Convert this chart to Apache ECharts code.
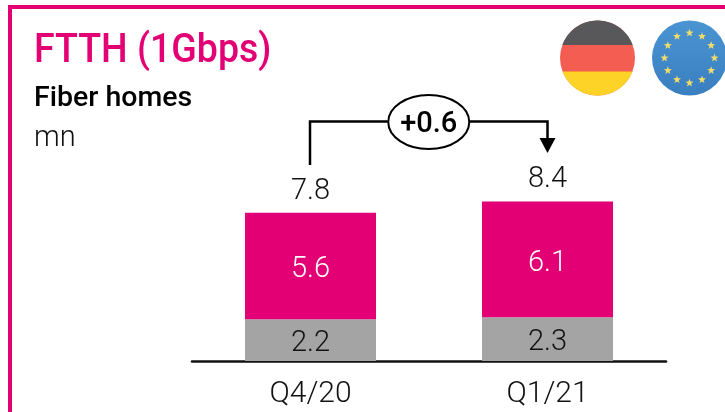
<!DOCTYPE html>
<html><head><meta charset="utf-8">
<style>html,body{margin:0;padding:0;background:#fff}#c{width:725px;height:412px}</style>
<script src="https://cdn.jsdelivr.net/npm/echarts@6/dist/echarts.min.js"></script>
</head><body><div id="c"></div>
<script>
const categories = ['Q4/20', 'Q1/21'];
const grayValues = [2.2, 2.3];
const pinkValues = [5.6, 6.1];
const totalValues = [7.8, 8.4];
const deltaLabel = '+0.6';
const FONT = 'Roboto, sans-serif';
const PINK = '#e20074', GRAY = '#a4a4a4', INK = '#111';

const chart = echarts.init(document.getElementById('c'), null, {renderer: 'canvas'});
const numLabel = (color) => ({show: true, color, fontFamily: FONT, fontSize: 29, fontWeight: 300,
  formatter: p => p.value.toFixed(1)});

chart.setOption({
  animation: false,
  backgroundColor: '#fff',
  grid: {left: 192, right: 59, top: 57, bottom: 51},
  xAxis: {type: 'category', data: categories, axisTick: {show: false},
    axisLine: {lineStyle: {color: '#111', width: 2.5}},
    axisLabel: {color: INK, fontFamily: FONT, fontSize: 30, fontWeight: 300, margin: 18}},
  yAxis: {type: 'value', min: 0, max: 16, show: false, splitLine: {show: false}},
  series: [
    {type: 'bar', stack: 't', name: 'gray', data: grayValues, barWidth: 131,
      itemStyle: {color: GRAY}, label: {...numLabel(INK), position: 'inside', offset: [0, 4]}},
    {type: 'bar', stack: 't', name: 'pink', data: pinkValues, barWidth: 131,
      itemStyle: {color: PINK}, label: {...numLabel('#fff'), position: 'inside', offset: [0, 4]}},
    {type: 'scatter', name: 'total', data: totalValues, symbolSize: 0, silent: true,
      itemStyle: {opacity: 1},
      label: {...numLabel(INK), position: 'top', distance: 7}}
  ]
});

// circular segment between two horizontal lines, as sampled polygon points
function band(cx, cy, r, y0, y1) {
  const pts = [];
  const a0 = Math.asin((y0 - cy) / r), a1 = Math.asin((y1 - cy) / r);
  for (let i = 0; i <= 24; i++) { const a = a0 + (a1 - a0) * i / 24; pts.push([cx + r * Math.cos(a), cy + r * Math.sin(a)]); }
  for (let i = 24; i >= 0; i--) { const a = a0 + (a1 - a0) * i / 24; pts.push([cx - r * Math.cos(a), cy + r * Math.sin(a)]); }
  return pts;
}
function star(cx, cy, R) {
  const pts = [];
  for (let i = 0; i < 10; i++) {
    const a = -Math.PI / 2 + i * Math.PI / 5, r = i % 2 ? R * 0.42 : R;
    pts.push([cx + r * Math.cos(a), cy + r * Math.sin(a)]);
  }
  return pts;
}

const p0 = chart.convertToPixel({seriesIndex: 0}, [0, 0]);
const p1 = chart.convertToPixel({seriesIndex: 0}, [1, 0]);
const x0 = p0[0] - 0.5, x1 = p1[0], yTop = 121.5, cxE = (x0 + x1) / 2;
const DE = {cx: 597.5, cy: 58, r: 37.5}, EU = {cx: 689.5, cy: 58, r: 37.5};

chart.setOption({
  graphic: [
    {type: 'rect', shape: {x: 8, y: 5, width: 717, height: 4}, style: {fill: PINK}, silent: true},
    {type: 'rect', shape: {x: 8, y: 5, width: 4, height: 407}, style: {fill: PINK}, silent: true},
    {type: 'text', silent: true, x: 34, y: 31, scaleX: 0.915,
      style: {text: 'FTTH (1Gbps)', x: 0, y: 0, fill: PINK, font: '500 41px ' + FONT}},
    {type: 'text', silent: true, style: {text: 'Fiber homes', x: 34, y: 84, fill: '#000', font: '500 28.5px ' + FONT}},
    {type: 'text', silent: true, style: {text: 'mn', x: 34, y: 124, fill: INK, font: '300 29px ' + FONT}},
    {type: 'polyline', silent: true, shape: {points: [[x0, 165], [x0, yTop], [cxE - 41, yTop]]}, style: {stroke: '#000', lineWidth: 2.5, fill: null}},
    {type: 'polyline', silent: true, shape: {points: [[cxE + 41, yTop], [x1, yTop], [x1, 140]]}, style: {stroke: '#000', lineWidth: 2.5, fill: null}},
    {type: 'polygon', silent: true, shape: {points: [[x1 - 8, 138], [x1 + 8, 138], [x1, 153]]}, style: {fill: '#000'}},
    {type: 'ellipse', silent: true, shape: {cx: cxE, cy: 122, rx: 40.5, ry: 27}, style: {fill: '#fff', stroke: '#000', lineWidth: 2}},
    {type: 'text', silent: true, style: {text: deltaLabel, x: cxE, y: 125, align: 'center', verticalAlign: 'middle', fill: '#000', font: '500 29px ' + FONT}},
    {type: 'circle', silent: true, shape: DE, style: {fill: '#f45d52'}},
    {type: 'polygon', silent: true, shape: {points: band(DE.cx, DE.cy, DE.r, DE.cy - DE.r, 45)}, style: {fill: '#58585a'}},
    {type: 'polygon', silent: true, shape: {points: band(DE.cx, DE.cy, DE.r, 71.5, DE.cy + DE.r)}, style: {fill: '#fed328'}},
    {type: 'circle', silent: true, shape: EU,
      style: {fill: {type: 'linear', x: 0, y: 0, x2: 0, y2: 1, colorStops: [{offset: 0, color: '#4a94d2'}, {offset: 1, color: '#3a7fc0'}]}}},
    ...Array.from({length: 12}, (_, i) => {
      const a = i * Math.PI / 6;
      return {type: 'polygon', silent: true, shape: {points: star(EU.cx + 25 * Math.sin(a), EU.cy - 25 * Math.cos(a), 4.2)}, style: {fill: '#f2dc6a'}};
    })
  ]
});
</script></body></html>
